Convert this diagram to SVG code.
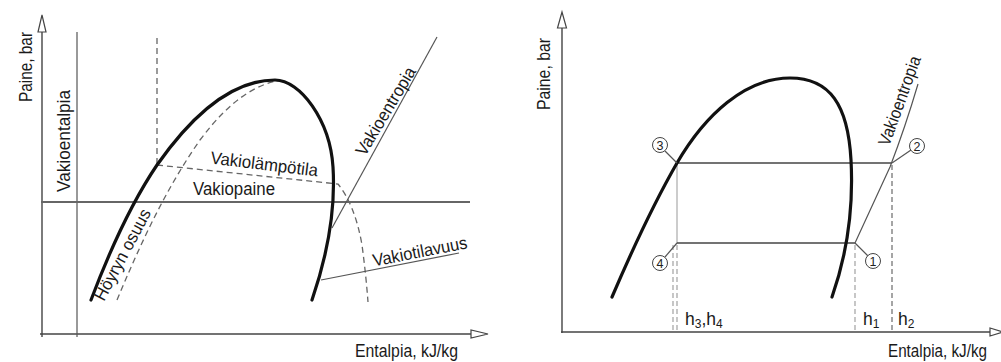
<svg xmlns="http://www.w3.org/2000/svg" width="1001" height="362" viewBox="0 0 1001 362">
<style>
.axis{stroke:#444;stroke-width:1.4;fill:none}
.arrow{fill:#fff;stroke:#444;stroke-width:1.2}
.sat{stroke:#111;stroke-width:3.2;fill:none;stroke-linecap:round}
.thin{stroke:#555;stroke-width:1.2;fill:none}
.hline{stroke:#666;stroke-width:2;fill:none}
.dash{stroke:#666;stroke-width:1.3;stroke-dasharray:6 4;fill:none}
.ldash{stroke:#999;stroke-width:1.1;stroke-dasharray:5 3;fill:none}
.lbl{font-family:"Liberation Sans",Arial,sans-serif;font-size:17.5px;fill:#1a1a1a}
.num{font-family:"Liberation Sans",Arial,sans-serif;font-size:12.5px;fill:#222;text-anchor:middle}
.circ{fill:#fff;stroke:#444;stroke-width:1}
</style>
<rect width="1001" height="362" fill="#fff"/>

<g id="left-chart">
  <g id="left-axes">
    <path class="axis" d="M42,337 V30"/>
    <polygon class="arrow" points="42,15 38,32 46,32"/>
    <path class="axis" d="M40,334 H472"/>
    <polygon class="arrow" points="488,334 471,330 471,338"/>
    <text class="lbl" transform="translate(32,102) rotate(-90)" textLength="70" lengthAdjust="spacingAndGlyphs">Paine, bar</text>
    <text class="lbl" x="355" y="357" textLength="103" lengthAdjust="spacingAndGlyphs">Entalpia, kJ/kg</text>
  </g>
  <g id="left-lines">
    <path class="thin" d="M77,32 V337"/>
    <path class="hline" d="M41,202 H470"/>
    <path class="dash" d="M157,38 V165"/>
    <path class="dash" d="M157,165 L338,184 Q355,205 362,245 Q366,275 368,302"/>
    <path class="dash" d="M117,300 C140,245 165,190 200,140 C230,100 255,85 280,80"/>
    <path class="thin" d="M332,228 L437,37"/>
    <path class="thin" d="M321,280 L459,253"/>
    <path class="sat" d="M91,300 C108,255 130,205 157,165 C190,118 230,80 275,80 C300,80 330,120 333,167 C336,215 324,265 312,300"/>
  </g>
  <g id="left-labels">
    <text class="lbl" transform="translate(70,192) rotate(-90)" textLength="102" lengthAdjust="spacingAndGlyphs">Vakioentalpia</text>
    <text class="lbl" transform="translate(210,163.5) rotate(6.9)" textLength="108" lengthAdjust="spacingAndGlyphs">Vakiolämpötila</text>
    <text class="lbl" x="193" y="195" textLength="82" lengthAdjust="spacingAndGlyphs">Vakiopaine</text>
    <text class="lbl" transform="translate(104,302) rotate(-62)" textLength="101" lengthAdjust="spacingAndGlyphs">Höyryn osuus</text>
    <text class="lbl" transform="translate(365,157) rotate(-59)" textLength="100" lengthAdjust="spacingAndGlyphs">Vakioentropia</text>
    <text class="lbl" transform="translate(374,266.5) rotate(-11)" textLength="96" lengthAdjust="spacingAndGlyphs">Vakiotilavuus</text>
  </g>
</g>

<g id="right-chart">
  <g id="right-axes">
    <path class="axis" d="M562,333 V28"/>
    <polygon class="arrow" points="562,12 557.5,28 566.5,28"/>
    <path class="axis" d="M561,332 H990"/>
    <polygon class="arrow" points="1003,332 990,328 990,336"/>
    <text class="lbl" transform="translate(550,110) rotate(-90)" textLength="72" lengthAdjust="spacingAndGlyphs">Paine, bar</text>
    <text class="lbl" x="888" y="357" textLength="99" lengthAdjust="spacingAndGlyphs">Entalpia, kJ/kg</text>
  </g>
  <g id="right-lines">
    <path class="ldash" d="M673,245 V332"/>
    <path class="ldash" d="M677,245 V332"/>
    <path class="ldash" d="M855,245 V332"/>
    <path class="ldash" d="M892,165 V332" style="stroke:#888;stroke-width:1.5"/>
    <path stroke="#999" stroke-width="1" fill="none" d="M677,163 V243"/>
    <path class="axis" d="M677,163 H892"/>
    <path class="axis" d="M677,243 H855"/>
    <path class="thin" d="M855,243 L890,167 Q905,128 918,84"/>
    <path class="sat" d="M612,297 C630,255 650,210 677,163 C705,115 745,78 790,78 C830,78 848,105 851,160 C854,215 845,260 832,297"/>
  </g>
  <g id="point-3">
    <path class="thin" d="M665,151 L677,163"/>
    <circle class="circ" cx="660" cy="145" r="7.5"/>
    <text class="num" x="660" y="149.5">3</text>
  </g>
  <g id="point-2">
    <path class="thin" d="M892,163 L911,150"/>
    <circle class="circ" cx="917" cy="146" r="7.5"/>
    <text class="num" x="917" y="150.5">2</text>
  </g>
  <g id="point-4">
    <path class="thin" d="M677,243 L665,257"/>
    <circle class="circ" cx="660" cy="263" r="7.5"/>
    <text class="num" x="660" y="267.5">4</text>
  </g>
  <g id="point-1">
    <path class="thin" d="M855,243 L868,256"/>
    <circle class="circ" cx="873" cy="261" r="7.5"/>
    <text class="num" x="873" y="265.5">1</text>
  </g>
  <g id="right-labels">
    <text class="lbl" transform="translate(889,147) rotate(-70)" textLength="94" lengthAdjust="spacingAndGlyphs">Vakioentropia</text>
    <text class="lbl" x="685" y="325">h<tspan dy="3" style="font-size:12px">3</tspan><tspan dy="-3">,h</tspan><tspan dy="3" style="font-size:12px">4</tspan></text>
    <text class="lbl" x="863" y="325">h<tspan dy="3" style="font-size:12px">1</tspan></text>
    <text class="lbl" x="898" y="325">h<tspan dy="3" style="font-size:12px">2</tspan></text>
  </g>
</g>
</svg>
